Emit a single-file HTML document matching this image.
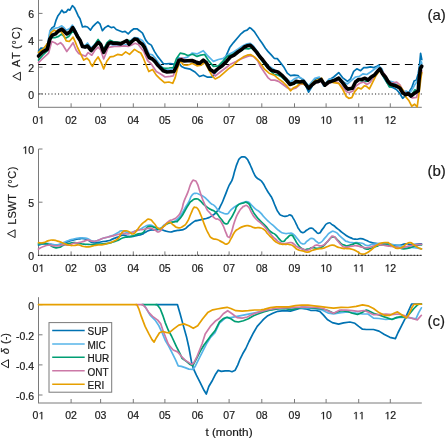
<!DOCTYPE html>
<html><head><meta charset="utf-8"><style>
html,body{margin:0;padding:0;background:#fff;}
body{width:445px;height:438px;overflow:hidden;}
svg{display:block;font-family:"Liberation Sans",sans-serif;font-kerning:none;will-change:transform;}
.t{fill:#1a1a1a;stroke:#1a1a1a;stroke-width:0.2px;}
</style></head><body>
<svg width="445" height="438" viewBox="0 0 445 438" >
<line x1="38.5" y1="0.0" x2="38.5" y2="107.3" stroke="#7a7a7a" stroke-width="1"/>
<line x1="38.5" y1="13.4" x2="42.5" y2="13.4" stroke="#7a7a7a" stroke-width="1"/>
<text x="28.16" y="18.18" font-size="10.5" class="t">6</text>
<line x1="38.5" y1="40.2" x2="42.5" y2="40.2" stroke="#7a7a7a" stroke-width="1"/>
<text x="28.16" y="45.02" font-size="10.5" class="t">4</text>
<line x1="38.5" y1="67.1" x2="42.5" y2="67.1" stroke="#7a7a7a" stroke-width="1"/>
<text x="28.16" y="71.86" font-size="10.5" class="t">2</text>
<line x1="38.5" y1="93.9" x2="42.5" y2="93.9" stroke="#7a7a7a" stroke-width="1"/>
<text x="28.16" y="98.70" font-size="10.5" class="t">0</text>
<line x1="38.0" y1="107.3" x2="421.8" y2="107.3" stroke="#7a7a7a" stroke-width="1"/>
<text x="32.61" y="123.70" font-size="10.5" class="t">0</text><path d="M560 0L560 1237L242 1010L242 1180L575 1409L741 1409L741 0Z" transform="translate(38.45,123.70) scale(0.00513,-0.00513)" class="t" style="stroke-width:39"/>
<line x1="71.1" y1="107.3" x2="71.1" y2="103.3" stroke="#7a7a7a" stroke-width="1"/>
<text x="65.27" y="123.70" font-size="10.5" class="t">0</text><text x="71.11" y="123.70" font-size="10.5" class="t">2</text>
<line x1="100.6" y1="107.3" x2="100.6" y2="103.3" stroke="#7a7a7a" stroke-width="1"/>
<text x="94.77" y="123.70" font-size="10.5" class="t">0</text><text x="100.61" y="123.70" font-size="10.5" class="t">3</text>
<line x1="133.3" y1="107.3" x2="133.3" y2="103.3" stroke="#7a7a7a" stroke-width="1"/>
<text x="127.43" y="123.70" font-size="10.5" class="t">0</text><text x="133.27" y="123.70" font-size="10.5" class="t">4</text>
<line x1="164.9" y1="107.3" x2="164.9" y2="103.3" stroke="#7a7a7a" stroke-width="1"/>
<text x="159.03" y="123.70" font-size="10.5" class="t">0</text><text x="164.87" y="123.70" font-size="10.5" class="t">5</text>
<line x1="197.5" y1="107.3" x2="197.5" y2="103.3" stroke="#7a7a7a" stroke-width="1"/>
<text x="191.69" y="123.70" font-size="10.5" class="t">0</text><text x="197.53" y="123.70" font-size="10.5" class="t">6</text>
<line x1="229.1" y1="107.3" x2="229.1" y2="103.3" stroke="#7a7a7a" stroke-width="1"/>
<text x="223.30" y="123.70" font-size="10.5" class="t">0</text><text x="229.13" y="123.70" font-size="10.5" class="t">7</text>
<line x1="261.8" y1="107.3" x2="261.8" y2="103.3" stroke="#7a7a7a" stroke-width="1"/>
<text x="255.95" y="123.70" font-size="10.5" class="t">0</text><text x="261.79" y="123.70" font-size="10.5" class="t">8</text>
<line x1="294.5" y1="107.3" x2="294.5" y2="103.3" stroke="#7a7a7a" stroke-width="1"/>
<text x="288.61" y="123.70" font-size="10.5" class="t">0</text><text x="294.45" y="123.70" font-size="10.5" class="t">9</text>
<line x1="326.1" y1="107.3" x2="326.1" y2="103.3" stroke="#7a7a7a" stroke-width="1"/>
<path d="M560 0L560 1237L242 1010L242 1180L575 1409L741 1409L741 0Z" transform="translate(320.22,123.70) scale(0.00513,-0.00513)" class="t" style="stroke-width:39"/><text x="326.06" y="123.70" font-size="10.5" class="t">0</text>
<line x1="358.7" y1="107.3" x2="358.7" y2="103.3" stroke="#7a7a7a" stroke-width="1"/>
<path d="M560 0L560 1237L242 1010L242 1180L575 1409L741 1409L741 0Z" transform="translate(352.88,123.70) scale(0.00513,-0.00513)" class="t" style="stroke-width:39"/><path d="M560 0L560 1237L242 1010L242 1180L575 1409L741 1409L741 0Z" transform="translate(358.71,123.70) scale(0.00513,-0.00513)" class="t" style="stroke-width:39"/>
<line x1="390.3" y1="107.3" x2="390.3" y2="103.3" stroke="#7a7a7a" stroke-width="1"/>
<path d="M560 0L560 1237L242 1010L242 1180L575 1409L741 1409L741 0Z" transform="translate(384.48,123.70) scale(0.00513,-0.00513)" class="t" style="stroke-width:39"/><text x="390.32" y="123.70" font-size="10.5" class="t">2</text>
<line x1="38.4" y1="94.05" x2="421.8" y2="94.05" stroke="#222" stroke-width="1.1" stroke-dasharray="1.1 2.168"/>
<line x1="38.4" y1="64.5" x2="421.8" y2="64.5" stroke="#000" stroke-width="1.2" stroke-dasharray="7.8 5.29"/>
<polyline points="38.5,51.0 41.0,48.0 43.5,48.4 46.1,46.5 48.6,41.5 50.4,30.2 52.3,27.6 54.2,26.4 56.1,20.1 58.0,15.7 59.9,13.2 61.8,10.1 63.6,12.6 66.2,11.9 68.0,9.4 69.9,10.1 72.4,5.7 74.3,7.5 76.2,11.3 78.1,15.7 80.0,18.8 82.5,27.0 85.0,26.4 87.5,27.0 90.5,30.1 93.0,26.3 95.5,23.8 97.8,21.9 99.9,23.8 102.4,30.7 105.0,27.6 108.1,25.7 111.2,27.6 113.8,27.0 116.3,29.5 119.4,30.7 122.5,32.0 125.1,31.4 128.2,33.9 131.3,30.7 133.9,28.8 137.0,28.8 139.5,30.7 142.5,33.2 145.7,40.1 148.2,43.2 151.3,45.1 154.4,51.4 157.6,56.4 160.7,60.2 163.2,63.5 166.4,63.8 170.2,63.5 173.9,64.2 176.4,63.3 178.9,63.0 181.5,66.5 185.2,68.2 190.3,69.2 195.0,72.0 199.5,76.5 203.3,75.2 207.1,77.1 212.1,77.1 215.2,72.7 219.0,67.7 222.8,63.3 225.9,56.4 229.7,47.6 233.5,42.6 237.2,38.2 241.0,33.8 244.4,31.0 247.1,30.1 249.7,27.6 251.5,28.8 254.1,31.3 256.6,35.1 259.1,38.9 262.2,43.3 265.4,48.3 267.9,51.4 271.0,54.6 274.2,58.3 277.3,58.6 280.4,62.5 284.2,67.6 287.3,73.2 290.5,75.7 294.3,75.1 298.0,75.5 299.8,77.6 303.5,80.1 306.1,86.4 308.6,92.1 311.7,87.0 314.8,79.5 318.6,78.2 321.1,80.1 324.3,85.2 328.0,82.0 329.9,79.5 333.7,77.0 338.7,72.6 342.5,77.6 347.5,81.4 350.5,78.9 353.7,71.3 356.8,68.8 360.6,70.7 363.7,67.6 366.8,67.6 370.6,66.9 373.8,67.6 376.9,66.3 378.8,65.1 381.3,71.3 383.8,77.6 386.9,82.5 389.5,86.4 393.2,87.7 396.4,89.5 399.5,93.0 402.7,98.3 405.0,96.0 408.2,94.7 410.0,90.5 411.9,87.4 414.1,81.0 416.4,80.0 418.2,73.7 419.6,64.6 420.6,53.4 421.8,59.6" fill="none" stroke="#0072B2" stroke-width="1.7" stroke-linejoin="round" stroke-linecap="round"/>
<polyline points="38.5,53.0 43.0,50.0 47.3,47.0 49.8,31.4 54.8,28.3 58.6,27.5 61.8,25.8 64.3,28.0 66.2,30.2 69.9,28.5 72.4,25.1 74.9,29.0 77.5,34.5 80.0,39.0 82.5,45.0 85.0,45.5 87.5,43.0 91.0,48.0 94.3,45.0 98.1,40.0 100.6,43.0 103.7,49.5 106.8,45.0 110.0,44.0 113.8,45.5 119.4,45.5 124.4,45.0 128.2,44.0 131.3,40.0 134.5,37.5 137.6,37.8 139.6,39.1 142.4,40.5 144.6,43.7 146.8,48.5 149.2,54.2 152.4,54.9 155.0,57.8 158.0,62.0 161.4,66.5 165.1,69.5 170.2,70.0 174.0,68.0 178.3,57.7 182.7,58.3 187.7,57.1 192.0,53.2 197.0,53.9 203.3,50.7 207.1,55.1 213.4,61.4 218.4,59.5 223.4,58.3 228.4,54.5 233.5,52.0 238.5,48.8 242.9,45.7 247.0,43.8 250.3,43.3 253.4,46.0 256.6,50.5 259.7,55.0 262.8,59.5 266.0,63.0 269.1,66.3 276.7,71.3 281.7,75.1 286.7,78.9 290.5,82.0 294.3,78.9 299.0,77.0 303.5,79.5 308.6,85.8 314.8,78.2 319.2,77.0 323.6,85.8 329.3,78.9 333.7,79.5 338.7,77.6 343.7,82.0 347.5,83.9 351.8,80.1 355.5,77.0 359.3,76.4 363.1,73.8 366.8,74.5 370.6,72.0 375.0,68.8 378.8,66.3 382.0,68.8 385.7,80.1 390.7,81.4 393.2,82.0 397.0,85.0 401.0,89.0 404.0,91.5 406.4,91.0 408.5,93.0 410.5,92.0 412.5,89.0 414.6,85.0 416.8,82.0 418.6,77.0 420.2,67.0 421.4,61.8 421.8,64.0" fill="none" stroke="#56B4E9" stroke-width="1.7" stroke-linejoin="round" stroke-linecap="round"/>
<polyline points="38.5,60.1 43.0,55.0 47.3,51.0 51.1,37.7 54.8,37.7 58.6,36.4 61.8,33.9 65.5,38.3 68.7,36.4 72.4,31.4 74.9,33.0 77.5,37.5 80.0,41.0 82.5,46.5 85.0,47.0 87.5,45.0 91.0,49.5 94.3,45.5 98.1,39.5 100.6,43.0 103.7,49.5 106.8,43.0 110.0,40.2 113.1,41.5 116.9,42.0 120.7,42.5 124.4,41.5 127.0,40.2 131.3,41.0 134.5,39.5 137.6,40.0 140.0,42.6 143.8,47.5 146.9,54.0 150.1,57.5 153.8,60.7 158.8,66.0 163.2,68.3 168.9,68.0 173.3,67.5 176.4,58.8 180.2,53.1 184.0,53.8 187.7,55.5 192.8,54.2 197.0,56.4 200.8,55.1 204.6,54.5 208.3,60.2 213.4,66.4 218.4,65.8 222.8,61.4 227.2,56.4 232.2,54.5 238.5,50.7 242.3,50.1 244.0,48.5 248.4,48.9 251.5,48.0 256.6,52.5 259.7,57.0 262.8,62.0 266.0,66.0 269.1,69.5 274.2,74.5 277.9,75.0 281.7,77.0 285.5,80.5 289.9,85.0 293.6,84.0 296.0,83.0 299.8,82.5 303.5,82.0 308.6,88.5 311.7,85.5 315.5,82.5 321.1,80.0 324.9,86.0 328.7,82.5 334.9,80.5 338.7,79.0 342.5,83.5 346.3,88.5 348.0,90.0 352.4,88.8 355.5,82.5 358.7,80.0 362.0,81.0 366.8,81.4 370.0,80.0 374.4,76.0 377.5,72.0 380.0,69.5 382.5,74.5 385.7,80.0 389.5,87.0 393.2,86.0 396.7,87.0 399.4,88.5 402.1,92.0 405.0,94.5 408.0,93.5 411.0,95.5 415.0,89.7 417.0,91.0 418.5,90.0 419.6,76.0 421.8,66.0" fill="none" stroke="#009E73" stroke-width="1.7" stroke-linejoin="round" stroke-linecap="round"/>
<polyline points="38.5,62.6 42.3,58.8 47.3,54.4 48.6,53.0 51.7,41.5 54.8,42.7 57.4,44.6 60.5,42.7 63.0,45.2 66.8,51.5 70.5,46.5 73.1,42.7 76.2,50.3 78.7,53.5 82.5,55.1 85.6,56.3 88.1,52.6 91.8,55.2 94.9,50.2 98.1,47.1 100.5,49.6 103.7,59.0 106.0,53.3 108.2,47.5 110.0,47.1 114.4,46.4 119.4,46.4 124.4,45.8 128.2,46.4 131.3,45.2 135.1,43.3 138.3,44.5 140.8,47.7 143.8,51.4 147.5,60.5 151.3,64.0 156.3,71.4 161.4,74.5 165.1,77.0 170.2,76.4 173.3,75.8 175.8,68.8 178.3,60.1 181.5,57.8 185.2,59.8 190.3,60.0 195.0,61.8 199.5,63.3 203.3,60.5 206.4,62.8 210.2,69.5 215.2,76.0 220.9,71.5 225.9,67.7 231.0,63.9 236.0,61.6 241.0,59.0 244.8,57.5 249.7,55.6 253.4,56.5 257.8,60.8 260.3,66.3 264.1,72.0 267.9,77.6 271.0,80.1 274.8,80.1 278.5,81.4 282.9,84.5 287.3,87.7 291.1,89.5 295.5,88.3 299.8,84.5 303.5,84.0 308.6,87.6 314.8,83.3 321.1,81.4 324.9,86.0 331.2,82.0 337.5,82.0 342.5,87.0 346.3,91.4 349.0,92.7 353.0,91.0 356.2,85.8 359.9,83.3 363.7,82.0 366.8,84.5 370.0,82.6 373.1,78.2 378.1,70.1 380.0,69.0 384.4,73.8 388.2,80.1 390.5,83.0 393.2,82.9 396.7,82.2 400.0,85.0 403.0,91.0 408.3,95.3 412.4,98.0 416.6,97.3 419.3,85.7 421.8,70.6" fill="none" stroke="#CC79A7" stroke-width="1.7" stroke-linejoin="round" stroke-linecap="round"/>
<polyline points="38.5,52.5 43.5,48.8 48.6,42.0 51.1,32.7 54.2,30.2 57.4,32.0 61.1,31.4 63.6,35.2 66.2,40.8 69.3,41.5 73.1,37.1 75.6,42.7 77.5,47.5 79.5,51.5 81.2,55.0 83.7,60.1 86.9,58.2 89.4,60.7 90.5,63.5 92.4,66.4 94.9,61.3 98.1,57.0 101.2,62.6 103.7,68.9 106.8,61.3 110.0,56.9 113.8,56.3 117.5,54.4 121.9,55.1 125.7,51.9 129.5,54.4 134.5,49.4 138.3,51.9 140.8,53.0 143.1,57.5 146.3,65.5 148.8,71.5 152.6,69.5 156.3,75.1 160.1,78.9 164.5,82.7 168.9,82.0 172.7,83.3 175.2,77.6 177.7,67.6 179.6,62.2 181.0,61.8 183.4,64.8 187.0,65.2 190.3,64.2 192.0,63.2 197.0,65.8 201.4,65.2 204.6,62.0 208.3,68.9 212.1,75.9 215.2,79.0 219.0,77.1 223.4,73.3 228.4,68.9 233.5,65.2 238.5,60.2 242.3,57.6 244.0,56.5 247.1,55.2 250.9,54.6 254.7,57.1 257.8,60.2 261.0,64.2 264.7,69.4 269.1,73.2 274.2,75.1 278.5,78.9 282.9,82.0 287.3,86.4 290.5,90.8 293.6,87.7 296.8,86.4 299.8,83.3 303.5,83.9 308.6,87.0 314.2,81.4 318.6,79.5 321.8,78.2 324.9,85.8 328.7,81.4 333.7,82.6 338.7,83.3 342.5,88.9 346.3,96.5 348.8,98.3 351.8,97.7 354.9,91.4 358.1,87.7 361.2,88.9 364.3,85.8 366.5,86.4 369.4,88.9 372.5,82.6 375.6,76.4 379.4,70.7 383.2,75.0 387.0,79.0 390.7,84.0 395.7,85.2 399.5,85.8 403.0,90.0 405.6,96.6 409.0,100.8 411.7,106.2 414.5,104.2 417.2,106.9 419.3,91.2 421.0,77.4 421.8,72.6" fill="none" stroke="#E69F00" stroke-width="1.7" stroke-linejoin="round" stroke-linecap="round"/>
<polyline points="38.5,56.0 42.3,52.3 47.3,49.2 49.8,39.0 52.3,35.2 55.5,33.9 58.6,30.8 61.8,29.1 64.3,31.4 66.8,33.9 69.9,32.0 72.7,27.6 74.9,31.4 77.5,36.4 80.0,40.2 82.5,46.5 85.0,47.1 87.5,46.0 91.2,50.5 94.3,46.9 98.2,42.3 100.6,44.3 103.7,52.3 106.0,47.8 108.7,43.4 110.5,42.6 113.1,43.3 116.9,43.3 120.7,43.9 125.0,41.5 126.8,40.6 129.1,44.2 131.9,41.5 134.6,39.1 137.3,39.6 139.9,42.6 142.4,44.2 144.6,47.6 146.9,53.2 149.2,57.5 152.4,59.0 155.1,61.6 157.9,65.3 161.5,68.9 163.2,70.8 167.0,72.0 170.8,71.7 173.9,71.5 176.4,66.5 178.9,60.2 181.5,59.8 184.0,61.0 187.7,60.7 192.0,60.5 195.8,62.0 199.5,63.3 203.3,60.2 206.4,62.7 210.2,69.6 214.0,72.1 217.8,68.9 222.2,65.8 226.5,61.4 230.3,57.0 234.1,55.1 237.9,52.0 241.6,49.5 244.4,47.0 247.1,45.8 250.3,45.2 253.4,48.3 256.6,52.1 259.7,56.5 262.8,60.0 264.7,62.5 267.9,66.9 271.0,70.1 274.8,71.3 277.9,72.0 281.7,75.1 285.5,78.9 289.9,84.5 293.6,83.3 296.0,81.4 299.8,82.0 303.5,81.4 308.6,88.3 311.7,85.2 315.5,82.0 318.6,81.4 321.1,79.5 324.9,85.2 328.7,82.0 331.2,81.4 334.9,80.1 338.7,78.2 342.5,82.6 346.3,87.7 348.0,89.0 352.4,88.3 355.5,82.0 358.7,79.5 361.8,79.5 365.0,78.2 368.1,80.1 371.2,77.0 374.4,75.1 377.5,71.3 380.0,68.8 382.5,73.8 385.4,77.0 388.0,81.5 390.5,84.3 393.2,85.0 396.7,86.2 399.4,87.7 400.0,88.3 402.7,92.8 405.5,94.7 408.2,93.3 410.9,96.0 413.7,93.8 416.4,92.0 418.2,91.0 419.2,78.2 420.5,68.2 421.8,66.2" fill="none" stroke="#000" stroke-width="3.6" stroke-linejoin="round" stroke-linecap="round"/>
<line x1="38.5" y1="149.0" x2="38.5" y2="255.4" stroke="#7a7a7a" stroke-width="1"/>
<line x1="38.5" y1="149.0" x2="42.5" y2="149.0" stroke="#7a7a7a" stroke-width="1"/>
<path d="M560 0L560 1237L242 1010L242 1180L575 1409L741 1409L741 0Z" transform="translate(22.32,153.80) scale(0.00513,-0.00513)" class="t" style="stroke-width:39"/><text x="28.16" y="153.80" font-size="10.5" class="t">0</text>
<line x1="38.5" y1="202.2" x2="42.5" y2="202.2" stroke="#7a7a7a" stroke-width="1"/>
<text x="28.16" y="207.00" font-size="10.5" class="t">5</text>
<line x1="38.5" y1="255.4" x2="42.5" y2="255.4" stroke="#7a7a7a" stroke-width="1"/>
<text x="28.16" y="260.20" font-size="10.5" class="t">0</text>
<line x1="38.0" y1="255.4" x2="421.8" y2="255.4" stroke="#7a7a7a" stroke-width="1"/>
<text x="32.61" y="271.80" font-size="10.5" class="t">0</text><path d="M560 0L560 1237L242 1010L242 1180L575 1409L741 1409L741 0Z" transform="translate(38.45,271.80) scale(0.00513,-0.00513)" class="t" style="stroke-width:39"/>
<line x1="71.1" y1="255.4" x2="71.1" y2="251.4" stroke="#7a7a7a" stroke-width="1"/>
<text x="65.27" y="271.80" font-size="10.5" class="t">0</text><text x="71.11" y="271.80" font-size="10.5" class="t">2</text>
<line x1="100.6" y1="255.4" x2="100.6" y2="251.4" stroke="#7a7a7a" stroke-width="1"/>
<text x="94.77" y="271.80" font-size="10.5" class="t">0</text><text x="100.61" y="271.80" font-size="10.5" class="t">3</text>
<line x1="133.3" y1="255.4" x2="133.3" y2="251.4" stroke="#7a7a7a" stroke-width="1"/>
<text x="127.43" y="271.80" font-size="10.5" class="t">0</text><text x="133.27" y="271.80" font-size="10.5" class="t">4</text>
<line x1="164.9" y1="255.4" x2="164.9" y2="251.4" stroke="#7a7a7a" stroke-width="1"/>
<text x="159.03" y="271.80" font-size="10.5" class="t">0</text><text x="164.87" y="271.80" font-size="10.5" class="t">5</text>
<line x1="197.5" y1="255.4" x2="197.5" y2="251.4" stroke="#7a7a7a" stroke-width="1"/>
<text x="191.69" y="271.80" font-size="10.5" class="t">0</text><text x="197.53" y="271.80" font-size="10.5" class="t">6</text>
<line x1="229.1" y1="255.4" x2="229.1" y2="251.4" stroke="#7a7a7a" stroke-width="1"/>
<text x="223.30" y="271.80" font-size="10.5" class="t">0</text><text x="229.13" y="271.80" font-size="10.5" class="t">7</text>
<line x1="261.8" y1="255.4" x2="261.8" y2="251.4" stroke="#7a7a7a" stroke-width="1"/>
<text x="255.95" y="271.80" font-size="10.5" class="t">0</text><text x="261.79" y="271.80" font-size="10.5" class="t">8</text>
<line x1="294.5" y1="255.4" x2="294.5" y2="251.4" stroke="#7a7a7a" stroke-width="1"/>
<text x="288.61" y="271.80" font-size="10.5" class="t">0</text><text x="294.45" y="271.80" font-size="10.5" class="t">9</text>
<line x1="326.1" y1="255.4" x2="326.1" y2="251.4" stroke="#7a7a7a" stroke-width="1"/>
<path d="M560 0L560 1237L242 1010L242 1180L575 1409L741 1409L741 0Z" transform="translate(320.22,271.80) scale(0.00513,-0.00513)" class="t" style="stroke-width:39"/><text x="326.06" y="271.80" font-size="10.5" class="t">0</text>
<line x1="358.7" y1="255.4" x2="358.7" y2="251.4" stroke="#7a7a7a" stroke-width="1"/>
<path d="M560 0L560 1237L242 1010L242 1180L575 1409L741 1409L741 0Z" transform="translate(352.88,271.80) scale(0.00513,-0.00513)" class="t" style="stroke-width:39"/><path d="M560 0L560 1237L242 1010L242 1180L575 1409L741 1409L741 0Z" transform="translate(358.71,271.80) scale(0.00513,-0.00513)" class="t" style="stroke-width:39"/>
<line x1="390.3" y1="255.4" x2="390.3" y2="251.4" stroke="#7a7a7a" stroke-width="1"/>
<path d="M560 0L560 1237L242 1010L242 1180L575 1409L741 1409L741 0Z" transform="translate(384.48,271.80) scale(0.00513,-0.00513)" class="t" style="stroke-width:39"/><text x="390.32" y="271.80" font-size="10.5" class="t">2</text>
<path d="M38.50 245.00C40.17 244.67 40.13 244.33 43.50 244.00C46.87 243.67 45.23 243.67 48.60 244.00C51.97 244.33 50.27 244.73 53.60 245.00C56.93 245.27 55.27 245.37 58.60 244.80C61.93 244.23 60.23 244.43 63.60 243.30C66.97 242.17 65.33 242.53 68.70 241.40C72.07 240.27 70.37 240.73 73.70 239.90C77.03 239.07 75.37 239.30 78.70 238.90C82.03 238.50 80.60 238.27 83.70 238.70C86.80 239.13 84.90 238.87 88.00 240.20C91.10 241.53 89.63 241.97 93.00 242.70C96.37 243.43 94.73 242.80 98.10 242.40C101.47 242.00 99.77 242.03 103.10 241.50C106.43 240.97 104.77 241.67 108.10 240.80C111.43 239.93 109.73 240.17 113.10 238.90C116.47 237.63 114.83 238.23 118.20 237.00C121.57 235.77 119.87 235.40 123.20 235.20C126.53 235.00 124.87 236.00 128.20 236.40C131.53 236.80 129.83 236.80 133.20 236.40C136.57 236.00 135.37 235.90 138.30 235.20C141.23 234.50 139.77 235.17 142.00 234.30C144.23 233.43 142.30 234.00 145.00 232.60C147.70 231.20 146.73 230.93 150.10 230.10C153.47 229.27 151.77 230.30 155.10 230.10C158.43 229.90 156.77 229.27 160.10 229.50C163.43 229.73 161.73 229.97 165.10 230.80C168.47 231.63 166.83 232.00 170.20 232.00C173.57 232.00 171.87 231.43 175.20 230.80C178.53 230.17 177.10 230.70 180.20 230.10C183.30 229.50 182.00 230.20 184.50 229.00C187.00 227.80 185.77 228.00 187.70 226.50C189.63 225.00 187.87 226.33 190.30 224.50C192.73 222.67 192.77 222.27 195.00 221.00C197.23 219.73 194.67 221.23 197.00 220.70C199.33 220.17 198.63 220.23 202.00 219.40C205.37 218.57 203.73 219.43 207.10 218.20C210.47 216.97 208.77 218.00 212.10 215.70C215.43 213.40 214.17 214.80 217.10 211.30C220.03 207.80 218.37 210.17 220.90 205.20C223.43 200.23 222.20 202.47 224.70 196.40C227.20 190.33 226.47 191.47 228.40 187.00C230.33 182.53 229.13 185.70 230.50 183.00C231.87 180.30 231.00 183.20 232.50 178.90C234.00 174.60 233.33 175.53 235.00 170.10C236.67 164.67 235.83 166.57 237.50 162.60C239.17 158.63 238.10 160.10 240.00 158.20C241.90 156.30 241.10 156.90 243.20 156.90C245.30 156.90 244.43 156.50 246.30 158.20C248.17 159.90 247.10 158.87 248.80 162.00C250.50 165.13 249.70 163.83 251.40 167.60C253.10 171.37 252.23 170.03 253.90 173.30C255.57 176.57 254.30 175.10 256.40 177.40C258.50 179.70 258.10 178.43 260.20 180.20C262.30 181.97 261.03 180.40 262.70 182.70C264.37 185.00 263.53 184.17 265.20 187.10C266.87 190.03 266.03 188.77 267.70 191.50C269.37 194.23 268.67 192.87 270.20 195.30C271.73 197.73 270.57 195.13 272.30 198.80C274.03 202.47 273.33 201.70 275.40 206.30C277.47 210.90 276.20 209.43 278.50 212.60C280.80 215.77 279.57 214.63 282.30 215.80C285.03 216.97 283.97 216.33 286.70 216.10C289.43 215.87 288.20 214.17 290.50 215.10C292.80 216.03 291.50 215.53 293.60 218.90C295.70 222.27 295.07 221.87 296.80 225.20C298.53 228.53 296.87 226.43 298.80 228.90C300.73 231.37 299.87 232.20 302.60 232.60C305.33 233.00 304.07 231.57 307.00 230.10C309.93 228.63 308.70 227.97 311.40 228.20C314.10 228.43 312.60 229.10 315.10 230.80C317.60 232.50 316.37 233.93 318.90 233.30C321.43 232.67 319.77 232.27 322.70 228.90C325.63 225.53 324.37 224.47 327.70 223.20C331.03 221.93 329.37 223.20 332.70 225.10C336.03 227.00 334.60 226.50 337.70 228.90C340.80 231.30 339.30 230.20 342.00 232.30C344.70 234.40 342.87 233.33 345.80 235.20C348.73 237.07 347.47 236.57 350.80 237.90C354.13 239.23 352.47 238.93 355.80 239.20C359.13 239.47 357.43 238.37 360.80 238.70C364.17 239.03 362.53 238.97 365.90 240.20C369.27 241.43 367.57 241.37 370.90 242.40C374.23 243.43 372.57 242.87 375.90 243.30C379.23 243.73 377.53 243.70 380.90 243.70C384.27 243.70 381.90 242.93 386.00 243.30C390.10 243.67 388.73 244.13 393.20 244.80C397.67 245.47 395.27 245.63 399.40 245.30C403.53 244.97 401.90 244.07 405.60 243.80C409.30 243.53 407.10 244.33 410.50 244.50C413.90 244.67 412.13 244.53 415.80 244.30C419.47 244.07 419.60 243.97 421.50 243.80" fill="none" stroke="#0072B2" stroke-width="1.7" stroke-linejoin="round" stroke-linecap="round"/>
<path d="M38.50 244.00C40.17 243.83 40.13 243.67 43.50 243.50C46.87 243.33 45.23 243.17 48.60 243.50C51.97 243.83 50.27 244.17 53.60 244.50C56.93 244.83 55.27 245.17 58.60 244.50C61.93 243.83 60.23 243.83 63.60 242.50C66.97 241.17 65.33 241.67 68.70 240.50C72.07 239.33 70.37 239.83 73.70 239.00C77.03 238.17 75.37 238.33 78.70 238.00C82.03 237.67 80.60 237.70 83.70 238.00C86.80 238.30 84.90 237.83 88.00 238.90C91.10 239.97 89.63 240.77 93.00 241.20C96.37 241.63 94.73 241.17 98.10 240.20C101.47 239.23 99.77 239.37 103.10 238.30C106.43 237.23 104.77 238.03 108.10 237.00C111.43 235.97 109.73 236.67 113.10 235.20C116.47 233.73 115.47 234.07 118.20 232.60C120.93 231.13 118.87 231.07 121.30 230.80C123.73 230.53 122.37 231.20 125.50 231.80C128.63 232.40 127.30 232.93 130.70 232.60C134.10 232.27 132.33 232.03 135.70 230.80C139.07 229.57 137.70 230.33 140.80 228.90C143.90 227.47 141.90 227.77 145.00 226.50C148.10 225.23 146.73 224.93 150.10 225.10C153.47 225.27 151.77 225.97 155.10 227.00C158.43 228.03 156.77 229.03 160.10 228.20C163.43 227.37 161.73 226.40 165.10 224.50C168.47 222.60 166.43 224.00 170.20 222.50C173.97 221.00 172.63 222.83 176.40 220.00C180.17 217.17 178.57 218.10 181.50 214.00C184.43 209.90 182.70 211.90 185.20 207.70C187.70 203.50 186.73 205.57 189.00 201.40C191.27 197.23 189.73 197.90 192.00 195.20C194.27 192.50 193.30 193.53 195.80 193.30C198.30 193.07 197.00 193.47 199.50 194.50C202.00 195.53 200.77 194.70 203.30 196.40C205.83 198.10 204.60 197.30 207.10 199.60C209.60 201.90 208.30 201.20 210.80 203.30C213.30 205.40 212.07 203.57 214.60 205.90C217.13 208.23 215.87 208.00 218.40 210.30C220.93 212.60 219.27 211.63 222.20 212.80C225.13 213.97 224.60 214.40 227.20 213.80C229.80 213.20 227.90 213.03 230.00 211.00C232.10 208.97 230.67 209.83 233.50 207.70C236.33 205.57 235.17 206.37 238.50 204.60C241.83 202.83 240.40 203.30 243.50 202.40C246.60 201.50 245.13 201.00 247.80 201.90C250.47 202.80 249.00 202.80 251.50 205.10C254.00 207.40 252.37 206.30 255.30 208.80C258.23 211.30 257.37 209.87 260.30 212.60C263.23 215.33 261.17 213.87 264.10 217.00C267.03 220.13 265.73 218.87 269.10 222.00C272.47 225.13 270.83 223.47 274.20 226.40C277.57 229.33 275.87 228.50 279.20 230.80C282.53 233.10 280.87 232.47 284.20 233.30C287.53 234.13 286.27 233.07 289.20 233.30C292.13 233.53 290.23 232.13 293.00 234.00C295.77 235.87 294.30 235.60 297.50 238.90C300.70 242.20 299.23 243.27 302.60 243.90C305.97 244.53 304.47 242.67 307.60 240.80C310.73 238.93 309.07 238.10 312.00 238.30C314.93 238.50 313.67 239.93 316.40 241.40C319.13 242.87 317.27 243.93 320.20 242.70C323.13 241.47 321.87 241.07 325.20 237.70C328.53 234.33 326.87 234.50 330.20 232.60C333.53 230.70 331.83 230.73 335.20 232.00C338.57 233.27 337.03 233.57 340.30 236.40C343.57 239.23 342.77 238.83 345.00 240.50C347.23 242.17 344.67 240.67 347.00 241.40C349.33 242.13 348.67 242.27 352.00 242.70C355.33 243.13 353.63 242.50 357.00 242.70C360.37 242.90 358.73 242.37 362.10 243.30C365.47 244.23 363.80 245.10 367.10 245.50C370.40 245.90 368.70 245.07 372.00 244.50C375.30 243.93 373.67 243.97 377.00 243.80C380.33 243.63 378.67 243.83 382.00 244.00C385.33 244.17 383.67 244.13 387.00 244.30C390.33 244.47 387.67 244.00 392.00 244.50C396.33 245.00 395.33 244.97 400.00 245.80C404.67 246.63 402.00 246.43 406.00 247.00C410.00 247.57 408.67 247.23 412.00 247.50C415.33 247.77 412.83 247.33 416.00 247.80C419.17 248.27 419.67 248.53 421.50 248.90" fill="none" stroke="#56B4E9" stroke-width="1.7" stroke-linejoin="round" stroke-linecap="round"/>
<path d="M38.50 244.00C40.17 243.77 40.13 243.13 43.50 243.30C46.87 243.47 45.23 243.23 48.60 244.50C51.97 245.77 50.27 246.10 53.60 247.10C56.93 248.10 55.27 248.13 58.60 247.50C61.93 246.87 60.23 246.47 63.60 245.20C66.97 243.93 65.33 244.53 68.70 243.70C72.07 242.87 70.37 242.83 73.70 242.70C77.03 242.57 75.37 242.80 78.70 243.30C82.03 243.80 80.60 243.87 83.70 244.20C86.80 244.53 84.90 244.17 88.00 244.30C91.10 244.43 89.63 244.63 93.00 244.60C96.37 244.57 94.73 244.43 98.10 244.20C101.47 243.97 99.77 244.20 103.10 243.90C106.43 243.60 104.77 243.93 108.10 243.30C111.43 242.67 109.73 243.03 113.10 242.00C116.47 240.97 114.83 241.63 118.20 240.20C121.57 238.77 119.87 238.77 123.20 237.70C126.53 236.63 124.87 237.63 128.20 237.00C131.53 236.37 129.83 236.83 133.20 235.80C136.57 234.77 135.03 234.97 138.30 233.90C141.57 232.83 140.43 234.40 143.00 232.60C145.57 230.80 143.63 230.57 146.00 228.50C148.37 226.43 147.07 226.70 150.10 226.40C153.13 226.10 151.77 226.80 155.10 227.60C158.43 228.40 156.77 229.67 160.10 228.80C163.43 227.93 161.73 227.00 165.10 225.00C168.47 223.00 166.43 223.97 170.20 222.80C173.97 221.63 173.90 222.13 176.40 221.50C178.90 220.87 176.00 222.57 177.70 220.90C179.40 219.23 179.00 220.07 181.50 216.50C184.00 212.93 182.70 214.40 185.20 210.20C187.70 206.00 186.73 207.03 189.00 203.90C191.27 200.77 189.73 202.47 192.00 200.80C194.27 199.13 193.30 199.10 195.80 198.90C198.30 198.70 197.00 198.50 199.50 200.20C202.00 201.90 200.77 201.70 203.30 204.00C205.83 206.30 204.60 205.27 207.10 207.10C209.60 208.93 207.87 207.70 210.80 209.50C213.73 211.30 212.53 209.40 215.90 212.50C219.27 215.60 217.57 215.03 220.90 218.80C224.23 222.57 222.97 223.37 225.90 223.80C228.83 224.23 226.77 224.27 229.70 220.10C232.63 215.93 232.20 216.03 234.70 211.30C237.20 206.57 234.67 208.57 237.20 205.90C239.73 203.23 238.77 204.27 242.30 203.30C245.83 202.33 244.73 201.17 247.80 203.00C250.87 204.83 249.00 204.77 251.50 208.80C254.00 212.83 252.37 211.10 255.30 215.10C258.23 219.10 256.93 217.23 260.30 220.80C263.67 224.37 262.03 222.23 265.40 225.80C268.77 229.37 267.07 228.57 270.40 231.50C273.73 234.43 272.47 232.10 275.40 234.60C278.33 237.10 276.67 236.70 279.20 239.00C281.73 241.30 280.50 241.70 283.00 241.50C285.50 241.30 284.00 240.50 286.70 238.40C289.40 236.30 288.57 235.20 291.10 235.20C293.63 235.20 292.17 235.50 294.30 238.40C296.43 241.30 294.73 240.37 297.50 243.90C300.27 247.43 299.23 247.23 302.60 249.00C305.97 250.77 304.27 249.63 307.60 249.20C310.93 248.77 309.27 248.00 312.60 247.70C315.93 247.40 314.23 248.70 317.60 248.30C320.97 247.90 319.33 248.80 322.70 246.50C326.07 244.20 324.37 244.57 327.70 241.40C331.03 238.23 329.37 237.40 332.70 237.00C336.03 236.60 334.77 237.90 337.70 240.20C340.63 242.50 339.07 242.23 341.50 243.90C343.93 245.57 343.17 244.57 345.00 245.20C346.83 245.83 344.67 246.00 347.00 245.80C349.33 245.60 348.63 245.43 352.00 244.60C355.37 243.77 353.73 242.67 357.10 243.30C360.47 243.93 359.17 244.60 362.10 246.50C365.03 248.40 362.97 248.40 365.90 249.00C368.83 249.60 367.57 249.13 370.90 248.30C374.23 247.47 372.57 247.60 375.90 246.50C379.23 245.40 377.53 245.57 380.90 245.00C384.27 244.43 381.97 244.37 386.00 244.80C390.03 245.23 388.53 245.27 393.00 246.30C397.47 247.33 395.90 247.03 399.40 247.90C402.90 248.77 400.10 248.90 403.50 248.90C406.90 248.90 405.50 248.93 409.60 247.90C413.70 246.87 411.83 246.83 415.80 245.80C419.77 244.77 419.60 245.13 421.50 244.80" fill="none" stroke="#009E73" stroke-width="1.7" stroke-linejoin="round" stroke-linecap="round"/>
<path d="M38.50 249.00C40.17 248.17 40.13 247.77 43.50 246.50C46.87 245.23 45.23 245.43 48.60 245.20C51.97 244.97 50.27 245.60 53.60 245.80C56.93 246.00 55.27 246.20 58.60 245.80C61.93 245.40 60.23 244.80 63.60 244.60C66.97 244.40 65.33 245.63 68.70 245.20C72.07 244.77 70.37 244.13 73.70 243.30C77.03 242.47 75.37 243.33 78.70 242.70C82.03 242.07 80.60 242.23 83.70 241.40C86.80 240.57 84.90 240.20 88.00 240.20C91.10 240.20 89.63 241.40 93.00 241.40C96.37 241.40 94.73 241.23 98.10 240.20C101.47 239.17 99.77 239.37 103.10 238.30C106.43 237.23 104.77 237.83 108.10 237.00C111.43 236.17 109.73 236.63 113.10 235.80C116.47 234.97 114.83 235.33 118.20 234.50C121.57 233.67 119.87 233.50 123.20 233.30C126.53 233.10 124.87 234.33 128.20 233.90C131.53 233.47 129.83 233.27 133.20 232.00C136.57 230.73 135.03 230.93 138.30 230.10C141.57 229.27 139.07 230.13 143.00 229.50C146.93 228.87 146.10 227.93 150.10 228.20C154.10 228.47 151.87 229.23 155.00 230.30C158.13 231.37 156.50 232.83 159.50 231.40C162.50 229.97 160.87 229.37 164.00 226.00C167.13 222.63 165.90 223.47 168.90 221.30C171.90 219.13 170.07 221.17 173.00 219.50C175.93 217.83 174.87 219.47 177.70 216.30C180.53 213.13 179.40 214.97 181.50 210.00C183.60 205.03 181.93 207.20 184.00 201.40C186.07 195.60 185.20 198.90 187.70 192.60C190.20 186.30 189.23 186.47 191.50 182.50C193.77 178.53 192.67 180.47 194.50 180.70C196.33 180.93 195.33 180.03 197.00 183.20C198.67 186.37 197.83 185.37 199.50 190.20C201.17 195.03 200.30 193.10 202.00 197.70C203.70 202.30 202.90 199.97 204.60 204.00C206.30 208.03 205.43 206.97 207.10 209.80C208.77 212.63 207.10 209.70 209.60 212.50C212.10 215.30 211.67 215.90 214.60 218.20C217.53 220.50 215.87 217.53 218.40 219.40C220.93 221.27 219.70 219.40 222.20 223.80C224.70 228.20 223.83 228.20 225.90 232.60C227.97 237.00 226.73 236.57 228.40 237.00C230.07 237.43 228.80 239.13 230.90 233.90C233.00 228.67 232.17 228.43 234.70 221.30C237.23 214.17 235.97 217.10 238.50 212.50C241.03 207.90 240.47 209.57 242.30 207.50C244.13 205.43 242.17 206.70 244.00 206.30C245.83 205.90 245.30 204.20 247.80 206.30C250.30 208.40 249.00 208.60 251.50 212.60C254.00 216.60 252.37 214.93 255.30 218.30C258.23 221.67 256.93 219.57 260.30 222.70C263.67 225.83 262.03 223.93 265.40 227.70C268.77 231.47 267.07 230.23 270.40 234.00C273.73 237.77 272.07 236.07 275.40 239.00C278.73 241.93 277.20 241.30 280.40 242.80C283.60 244.30 281.63 243.60 285.00 243.50C288.37 243.40 287.57 242.33 290.50 242.50C293.43 242.67 291.47 242.47 293.80 244.00C296.13 245.53 294.57 245.43 297.50 247.10C300.43 248.77 299.23 247.97 302.60 249.00C305.97 250.03 304.47 250.63 307.60 250.20C310.73 249.77 309.07 249.37 312.00 247.70C314.93 246.03 313.27 245.83 316.40 245.20C319.53 244.57 318.07 246.63 321.40 245.80C324.73 244.97 323.47 245.20 326.40 242.70C329.33 240.20 327.90 240.40 330.20 238.30C332.50 236.20 330.80 235.57 333.30 236.40C335.80 237.23 334.97 237.87 337.70 240.80C340.43 243.73 339.07 243.10 341.50 245.20C343.93 247.30 341.50 246.77 345.00 247.10C348.50 247.43 348.00 246.63 352.00 246.20C356.00 245.77 353.63 245.50 357.00 245.80C360.37 246.10 358.73 246.47 362.10 247.10C365.47 247.73 363.80 247.90 367.10 247.70C370.40 247.50 368.63 247.33 372.00 246.50C375.37 245.67 373.87 245.70 377.20 245.20C380.53 244.70 378.67 244.80 382.00 245.00C385.33 245.20 383.77 245.30 387.20 245.80C390.63 246.30 389.03 246.03 392.30 246.50C395.57 246.97 393.93 246.77 397.00 247.20C400.07 247.63 397.30 248.27 401.50 247.80C405.70 247.33 404.83 246.80 409.60 245.80C414.37 244.80 411.83 245.30 415.80 244.80C419.77 244.30 419.60 244.47 421.50 244.30" fill="none" stroke="#CC79A7" stroke-width="1.7" stroke-linejoin="round" stroke-linecap="round"/>
<path d="M38.50 242.70C40.17 242.70 40.13 243.40 43.50 242.70C46.87 242.00 45.23 241.43 48.60 240.60C51.97 239.77 50.27 239.93 53.60 240.20C56.93 240.47 55.27 240.37 58.60 241.40C61.93 242.43 60.23 242.10 63.60 243.30C66.97 244.50 65.33 244.27 68.70 245.00C72.07 245.73 70.37 245.50 73.70 245.50C77.03 245.50 75.37 244.67 78.70 245.00C82.03 245.33 80.33 245.90 83.70 246.50C87.07 247.10 85.70 247.03 88.80 246.80C91.90 246.57 89.90 246.40 93.00 245.80C96.10 245.20 94.73 245.40 98.10 245.00C101.47 244.60 99.77 245.17 103.10 244.60C106.43 244.03 104.77 244.37 108.10 243.30C111.43 242.23 109.73 243.07 113.10 241.40C116.47 239.73 115.27 241.23 118.20 238.30C121.13 235.37 119.40 235.10 121.90 232.60C124.40 230.10 123.17 231.00 125.70 230.80C128.23 230.60 127.00 230.97 129.50 232.00C132.00 233.03 130.70 234.53 133.20 233.90C135.70 233.27 134.57 232.90 137.00 230.10C139.43 227.30 137.83 228.37 140.50 225.50C143.17 222.63 142.03 223.57 145.00 221.50C147.97 219.43 146.47 218.80 149.40 219.30C152.33 219.80 150.67 219.90 153.80 223.00C156.93 226.10 155.57 227.43 158.80 228.60C162.03 229.77 160.13 228.53 163.50 226.50C166.87 224.47 165.63 223.00 168.90 222.50C172.17 222.00 170.37 223.27 173.30 225.00C176.23 226.73 174.57 227.20 177.70 227.70C180.83 228.20 179.53 228.40 182.70 226.50C185.87 224.60 184.50 226.17 187.20 222.00C189.90 217.83 188.73 218.57 190.80 214.00C192.87 209.43 191.97 210.47 193.40 208.30C194.83 206.13 193.67 207.33 195.10 207.50C196.53 207.67 195.80 206.30 197.70 208.80C199.60 211.30 198.50 209.57 200.80 215.00C203.10 220.43 202.10 219.00 204.60 225.10C207.10 231.20 205.80 228.90 208.30 233.30C210.80 237.70 209.17 236.23 212.10 238.30C215.03 240.37 213.73 238.23 217.10 239.50C220.47 240.77 218.83 240.63 222.20 242.10C225.57 243.57 224.30 244.97 227.20 243.90C230.10 242.83 228.40 242.87 230.90 238.90C233.40 234.93 232.17 235.33 234.70 232.00C237.23 228.67 235.57 230.77 238.50 228.90C241.43 227.03 240.00 227.43 243.50 226.40C247.00 225.37 245.50 225.37 249.00 225.80C252.50 226.23 250.63 227.07 254.00 227.70C257.37 228.33 255.73 227.07 259.10 227.70C262.47 228.33 261.17 227.50 264.10 229.60C267.03 231.70 265.40 231.30 267.90 234.00C270.40 236.70 269.10 235.20 271.60 237.70C274.10 240.20 272.47 239.40 275.40 241.50C278.33 243.60 277.20 243.07 280.40 244.00C283.60 244.93 281.80 244.10 285.00 244.30C288.20 244.50 287.07 243.87 290.00 244.60C292.93 245.33 291.30 244.83 293.80 246.50C296.30 248.17 294.57 248.13 297.50 249.60C300.43 251.07 299.23 250.07 302.60 250.90C305.97 251.73 304.27 252.33 307.60 252.10C310.93 251.87 309.27 251.23 312.60 250.20C315.93 249.17 314.23 249.63 317.60 249.00C320.97 248.37 319.33 249.13 322.70 248.30C326.07 247.47 324.37 247.53 327.70 246.50C331.03 245.47 329.37 245.00 332.70 245.20C336.03 245.40 334.33 246.07 337.70 247.10C341.07 248.13 339.70 247.80 342.80 248.30C345.90 248.80 343.93 248.30 347.00 248.60C350.07 248.90 348.63 248.23 352.00 249.20C355.37 250.17 353.73 249.90 357.10 251.50C360.47 253.10 358.77 253.60 362.10 254.00C365.43 254.40 363.73 254.37 367.10 252.70C370.47 251.03 368.83 251.57 372.20 249.00C375.57 246.43 373.87 247.03 377.20 245.00C380.53 242.97 378.87 243.67 382.20 242.90C385.53 242.13 384.90 242.57 387.20 242.70C389.50 242.83 387.10 242.10 389.10 243.30C391.10 244.50 390.47 244.60 393.20 246.30C395.93 248.00 394.20 248.20 397.30 248.40C400.40 248.60 399.40 248.43 402.50 246.90C405.60 245.37 404.03 245.20 406.60 243.80C409.17 242.40 407.80 242.37 410.20 242.70C412.60 243.03 411.23 243.23 413.80 244.80C416.37 246.37 415.33 246.03 417.90 247.40C420.47 248.77 420.30 248.40 421.50 248.90" fill="none" stroke="#E69F00" stroke-width="1.7" stroke-linejoin="round" stroke-linecap="round"/>
<line x1="37.9" y1="255.4" x2="421.8" y2="255.4" stroke="#222" stroke-width="1.1" stroke-dasharray="1.1 2.168"/>
<line x1="38.5" y1="297.2" x2="38.5" y2="403.0" stroke="#7a7a7a" stroke-width="1"/>
<line x1="38.5" y1="304.7" x2="42.5" y2="304.7" stroke="#7a7a7a" stroke-width="1"/>
<text x="28.16" y="309.50" font-size="10.5" class="t">0</text>
<line x1="38.5" y1="334.8" x2="42.5" y2="334.8" stroke="#7a7a7a" stroke-width="1"/>
<text x="34" y="339.6" text-anchor="end" font-size="10.5" class="t">-0.2</text>
<line x1="38.5" y1="364.9" x2="42.5" y2="364.9" stroke="#7a7a7a" stroke-width="1"/>
<text x="34" y="369.7" text-anchor="end" font-size="10.5" class="t">-0.4</text>
<line x1="38.5" y1="395.0" x2="42.5" y2="395.0" stroke="#7a7a7a" stroke-width="1"/>
<text x="34" y="399.8" text-anchor="end" font-size="10.5" class="t">-0.6</text>
<line x1="38.0" y1="403.0" x2="421.8" y2="403.0" stroke="#7a7a7a" stroke-width="1"/>
<text x="32.61" y="419.20" font-size="10.5" class="t">0</text><path d="M560 0L560 1237L242 1010L242 1180L575 1409L741 1409L741 0Z" transform="translate(38.45,419.20) scale(0.00513,-0.00513)" class="t" style="stroke-width:39"/>
<line x1="71.1" y1="403.0" x2="71.1" y2="399.0" stroke="#7a7a7a" stroke-width="1"/>
<text x="65.27" y="419.20" font-size="10.5" class="t">0</text><text x="71.11" y="419.20" font-size="10.5" class="t">2</text>
<line x1="100.6" y1="403.0" x2="100.6" y2="399.0" stroke="#7a7a7a" stroke-width="1"/>
<text x="94.77" y="419.20" font-size="10.5" class="t">0</text><text x="100.61" y="419.20" font-size="10.5" class="t">3</text>
<line x1="133.3" y1="403.0" x2="133.3" y2="399.0" stroke="#7a7a7a" stroke-width="1"/>
<text x="127.43" y="419.20" font-size="10.5" class="t">0</text><text x="133.27" y="419.20" font-size="10.5" class="t">4</text>
<line x1="164.9" y1="403.0" x2="164.9" y2="399.0" stroke="#7a7a7a" stroke-width="1"/>
<text x="159.03" y="419.20" font-size="10.5" class="t">0</text><text x="164.87" y="419.20" font-size="10.5" class="t">5</text>
<line x1="197.5" y1="403.0" x2="197.5" y2="399.0" stroke="#7a7a7a" stroke-width="1"/>
<text x="191.69" y="419.20" font-size="10.5" class="t">0</text><text x="197.53" y="419.20" font-size="10.5" class="t">6</text>
<line x1="229.1" y1="403.0" x2="229.1" y2="399.0" stroke="#7a7a7a" stroke-width="1"/>
<text x="223.30" y="419.20" font-size="10.5" class="t">0</text><text x="229.13" y="419.20" font-size="10.5" class="t">7</text>
<line x1="261.8" y1="403.0" x2="261.8" y2="399.0" stroke="#7a7a7a" stroke-width="1"/>
<text x="255.95" y="419.20" font-size="10.5" class="t">0</text><text x="261.79" y="419.20" font-size="10.5" class="t">8</text>
<line x1="294.5" y1="403.0" x2="294.5" y2="399.0" stroke="#7a7a7a" stroke-width="1"/>
<text x="288.61" y="419.20" font-size="10.5" class="t">0</text><text x="294.45" y="419.20" font-size="10.5" class="t">9</text>
<line x1="326.1" y1="403.0" x2="326.1" y2="399.0" stroke="#7a7a7a" stroke-width="1"/>
<path d="M560 0L560 1237L242 1010L242 1180L575 1409L741 1409L741 0Z" transform="translate(320.22,419.20) scale(0.00513,-0.00513)" class="t" style="stroke-width:39"/><text x="326.06" y="419.20" font-size="10.5" class="t">0</text>
<line x1="358.7" y1="403.0" x2="358.7" y2="399.0" stroke="#7a7a7a" stroke-width="1"/>
<path d="M560 0L560 1237L242 1010L242 1180L575 1409L741 1409L741 0Z" transform="translate(352.88,419.20) scale(0.00513,-0.00513)" class="t" style="stroke-width:39"/><path d="M560 0L560 1237L242 1010L242 1180L575 1409L741 1409L741 0Z" transform="translate(358.71,419.20) scale(0.00513,-0.00513)" class="t" style="stroke-width:39"/>
<line x1="390.3" y1="403.0" x2="390.3" y2="399.0" stroke="#7a7a7a" stroke-width="1"/>
<path d="M560 0L560 1237L242 1010L242 1180L575 1409L741 1409L741 0Z" transform="translate(384.48,419.20) scale(0.00513,-0.00513)" class="t" style="stroke-width:39"/><text x="390.32" y="419.20" font-size="10.5" class="t">2</text>
<polyline points="156.0,304.6 177.4,304.6 180.1,313.8 183.2,325.1 186.4,336.4 188.9,347.5 191.4,361.4 193.3,368.3 196.4,375.2 200.2,382.7 204.0,390.3 206.3,394.0 208.8,386.5 212.5,380.2 215.7,373.9 218.2,370.2 221.3,371.4 225.1,370.8 228.9,370.8 232.0,371.7 235.2,370.2 237.7,365.1 240.2,358.8 242.7,353.8 245.8,348.5 249.0,341.5 253.5,332.7 257.2,326.4 262.3,320.7 264.0,318.9 267.8,315.7 272.8,313.2 277.8,311.3 284.1,310.7 290.4,311.1 295.4,309.8 300.4,308.2 305.5,308.8 310.5,310.3 316.0,310.5 319.8,311.3 323.5,315.1 327.3,319.5 332.3,322.6 338.6,324.1 343.6,322.9 349.9,322.0 354.9,323.3 358.7,326.4 362.5,329.2 366.3,329.5 373.5,329.5 379.0,331.1 384.4,334.5 389.9,337.3 395.4,338.6 398.1,332.5 401.6,325.6 405.0,318.8 408.4,311.2 411.6,304.0 421.4,304.0" fill="none" stroke="#0072B2" stroke-width="1.7" stroke-linejoin="round" stroke-linecap="round"/>
<polyline points="143.0,304.6 143.8,304.6 146.4,308.8 150.1,315.1 155.1,320.1 158.9,325.8 162.1,332.7 165.2,340.2 168.8,346.3 172.6,353.8 175.7,360.1 178.2,365.8 181.4,366.4 185.1,367.6 188.9,369.1 192.7,369.5 195.2,366.4 198.9,358.8 202.7,351.3 206.5,343.8 210.3,337.7 215.0,332.7 219.5,323.0 225.8,317.6 230.8,317.6 237.1,316.3 243.4,315.1 249.7,313.8 256.0,312.6 262.0,311.5 267.0,310.3 275.0,309.0 285.0,308.5 295.0,308.0 305.0,308.0 316.0,308.8 322.0,310.0 328.6,313.2 333.6,313.8 341.0,312.6 348.0,312.0 356.0,313.2 362.5,313.8 368.0,314.0 373.5,318.1 379.0,318.5 385.8,319.5 392.0,319.0 399.5,317.4 406.0,317.4 411.8,318.1 415.9,318.8 418.7,312.6 421.4,307.8" fill="none" stroke="#56B4E9" stroke-width="1.7" stroke-linejoin="round" stroke-linecap="round"/>
<polyline points="142.0,304.6 157.0,304.6 160.2,308.8 162.7,315.1 165.2,322.6 168.3,330.2 171.5,336.0 176.3,346.4 180.1,353.8 182.0,358.2 186.4,361.4 190.2,364.5 192.7,365.8 196.4,358.8 200.2,351.3 204.0,345.0 207.7,340.0 210.3,336.4 215.0,330.8 219.5,322.0 223.3,318.6 227.1,317.3 230.8,318.8 234.6,321.4 238.4,322.0 243.4,320.7 248.4,318.8 253.5,315.7 258.5,313.8 263.5,311.9 271.5,309.8 279.1,308.6 286.0,308.6 291.6,309.8 296.0,308.6 301.7,307.3 308.0,307.5 315.0,308.2 322.0,308.8 328.0,310.5 333.6,313.2 341.1,310.7 347.0,311.3 352.4,313.2 357.5,314.5 362.0,312.5 366.3,310.1 368.0,310.5 373.5,313.3 379.0,315.0 385.8,317.4 392.0,319.5 396.8,317.4 402.2,316.7 406.4,317.4 410.5,312.6 413.9,308.5 417.3,305.1 419.0,304.1 421.4,304.1" fill="none" stroke="#009E73" stroke-width="1.7" stroke-linejoin="round" stroke-linecap="round"/>
<polyline points="136.0,304.6 142.6,304.6 145.7,307.6 148.9,312.6 152.6,316.4 157.7,320.1 160.8,323.9 163.3,331.4 165.8,337.7 168.3,344.0 170.0,346.3 173.2,350.0 177.6,351.9 181.4,356.3 185.1,360.1 188.9,362.6 192.0,364.5 193.9,362.6 197.1,356.3 199.6,350.0 202.1,343.8 205.2,333.9 210.3,326.4 215.8,320.7 219.5,318.2 223.3,313.8 227.7,310.7 232.1,313.8 237.1,317.6 242.2,318.2 247.2,317.0 252.2,314.4 257.2,312.6 262.3,311.1 267.0,310.0 275.0,308.5 285.0,308.0 295.0,307.3 305.0,307.0 316.0,307.5 323.0,308.5 328.6,311.3 333.6,313.2 339.9,310.1 346.0,310.1 352.4,310.7 358.0,311.3 364.0,310.5 368.0,311.9 373.5,314.7 379.0,314.7 385.8,314.0 392.0,314.7 398.1,314.0 403.6,315.3 409.1,317.4 413.2,318.8 417.3,319.9 421.4,315.3" fill="none" stroke="#CC79A7" stroke-width="1.7" stroke-linejoin="round" stroke-linecap="round"/>
<polyline points="38.5,304.6 136.9,304.6 138.8,308.8 141.3,316.4 145.1,326.4 148.9,333.9 152.0,339.6 154.1,342.1 156.4,337.7 159.5,332.7 162.7,331.5 166.0,332.3 169.0,332.8 173.8,328.9 178.8,325.1 183.9,323.9 188.9,325.8 193.3,328.3 197.7,325.8 202.7,318.8 207.7,312.6 212.8,309.8 217.0,309.0 222.0,308.2 227.1,307.3 230.8,308.5 235.9,310.7 242.2,311.1 248.4,310.7 254.7,310.0 261.0,309.8 264.0,309.4 270.3,307.6 276.6,306.9 282.8,306.9 289.0,306.9 295.4,305.7 301.7,305.0 308.0,305.2 314.0,305.8 319.0,306.3 328.6,307.6 333.6,308.2 341.1,307.3 348.0,307.5 356.2,306.3 362.5,304.8 368.0,305.8 373.5,308.5 379.0,312.6 384.4,315.3 389.9,315.3 394.0,313.3 397.5,311.9 401.6,314.7 406.4,318.1 409.1,314.0 411.8,307.8 413.9,304.4 421.4,304.1" fill="none" stroke="#E69F00" stroke-width="1.7" stroke-linejoin="round" stroke-linecap="round"/>
<rect x="49" y="322.6" width="62.7" height="69.6" fill="#fff" stroke="#7a7a7a" stroke-width="1"/>
<line x1="52.2" y1="330.5" x2="84.7" y2="330.5" stroke="#0072B2" stroke-width="1.5"/>
<text x="87.5" y="335.3" font-size="10" class="t">SUP</text>
<line x1="52.2" y1="343.9" x2="84.7" y2="343.9" stroke="#56B4E9" stroke-width="1.5"/>
<text x="87.5" y="348.7" font-size="10" class="t">MIC</text>
<line x1="52.2" y1="357.3" x2="84.7" y2="357.3" stroke="#009E73" stroke-width="1.5"/>
<text x="87.5" y="362.1" font-size="10" class="t">HUR</text>
<line x1="52.2" y1="370.8" x2="84.7" y2="370.8" stroke="#CC79A7" stroke-width="1.5"/>
<text x="87.5" y="375.6" font-size="10" class="t">ONT</text>
<line x1="52.2" y1="384.2" x2="84.7" y2="384.2" stroke="#E69F00" stroke-width="1.5"/>
<text x="87.5" y="389.0" font-size="10" class="t">ERI</text>
<path d="M12.80 76.30L20.40 72.20L20.40 80.30Z" fill="none" stroke="#111" stroke-width="0.95" stroke-linejoin="miter"/>
<g transform="translate(20.4,80.7) rotate(-90)"><text x="13.7" y="0" font-size="11" class="t">A</text><text x="21.75" y="0" font-size="11" class="t">T</text><text x="31.8" y="0" font-size="11" class="t" letter-spacing="0.83">(°C)</text></g>
<path d="M7.50 233.70L15.10 229.80L15.10 237.60Z" fill="none" stroke="#111" stroke-width="0.95" stroke-linejoin="miter"/>
<g transform="translate(15.5,238) rotate(-90)"><text x="13.3" y="0" font-size="11" class="t">LSWT</text><text x="50.0" y="0" font-size="11" class="t" letter-spacing="0.6">(°C)</text></g>
<path d="M1.00 363.75L8.50 359.70L8.50 367.80Z" fill="none" stroke="#111" stroke-width="0.95" stroke-linejoin="miter"/>
<g transform="translate(8.9,368.2) rotate(-90)"><text x="14" y="0" font-size="11" class="t" font-style="italic">δ</text><text x="24.2" y="0" font-size="11" class="t">(-)</text></g>
<text x="229" y="435.5" text-anchor="middle" font-size="11.8" class="t">t (month)</text>
<text x="427.5" y="20.2" font-size="15" class="t">(a)</text>
<text x="427.5" y="176.2" font-size="15" class="t">(b)</text>
<text x="427.5" y="325.9" font-size="15" class="t">(c)</text>
</svg>
</body></html>
